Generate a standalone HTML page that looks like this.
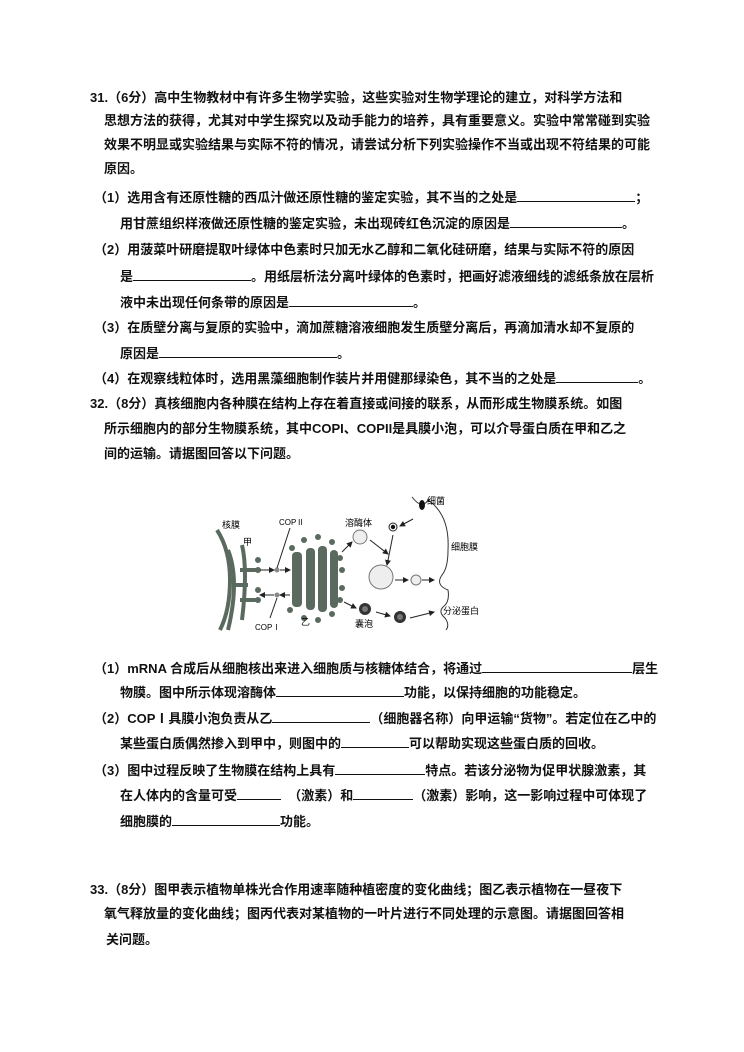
<!DOCTYPE html>
<html><head><meta charset="utf-8"><style>
body{margin:0;background:#fff;}
#p{position:relative;width:744px;height:1052px;overflow:hidden;font-family:"Liberation Sans","Noto Sans CJK SC",sans-serif;font-size:13px;font-weight:bold;color:#111;}
.l{position:absolute;white-space:pre;line-height:16px;}
.u{display:inline-block;border-bottom:1px solid #111;height:12px;vertical-align:baseline;}
</style></head><body><div id="p">
<div class="l" style="left:90px;top:90px">31.（6分）高中生物教材中有许多生物学实验，这些实验对生物学理论的建立，对科学方法和</div>
<div class="l" style="left:104px;top:113px">思想方法的获得，尤其对中学生探究以及动手能力的培养，具有重要意义。实验中常常碰到实验</div>
<div class="l" style="left:104px;top:137px">效果不明显或实验结果与实际不符的情况，请尝试分析下列实验操作不当或出现不符结果的可能</div>
<div class="l" style="left:104px;top:161px">原因。</div>
<div class="l" style="left:94px;top:189px">（1）选用含有还原性糖的西瓜汁做还原性糖的鉴定实验，其不当的之处是<span class="u" style="width:118px"></span>；</div>
<div class="l" style="left:120px;top:215px">用甘蔗组织样液做还原性糖的鉴定实验，未出现砖红色沉淀的原因是<span class="u" style="width:112px"></span>。</div>
<div class="l" style="left:94px;top:242px">（2）用菠菜叶研磨提取叶绿体中色素时只加无水乙醇和二氧化硅研磨，结果与实际不符的原因</div>
<div class="l" style="left:120px;top:268px">是<span class="u" style="width:118px"></span>。用纸层析法分离叶绿体的色素时，把画好滤液细线的滤纸条放在层析</div>
<div class="l" style="left:120px;top:294px">液中未出现任何条带的原因是<span class="u" style="width:124px"></span>。</div>
<div class="l" style="left:94px;top:320px">（3）在质壁分离与复原的实验中，滴加蔗糖溶液细胞发生质壁分离后，再滴加清水却不复原的</div>
<div class="l" style="left:120px;top:345px">原因是<span class="u" style="width:178px"></span>。</div>
<div class="l" style="left:94px;top:370px">（4）在观察线粒体时，选用黑藻细胞制作装片并用健那绿染色，其不当的之处是<span class="u" style="width:82px"></span>。</div>
<div class="l" style="left:90px;top:396px">32.（8分）真核细胞内各种膜在结构上存在着直接或间接的联系，从而形成生物膜系统。如图</div>
<div class="l" style="left:104px;top:421px">所示细胞内的部分生物膜系统，其中COPI、COPII是具膜小泡，可以介导蛋白质在甲和乙之</div>
<div class="l" style="left:104px;top:446px">间的运输。请据图回答以下问题。</div>

<svg style="position:absolute;left:200px;top:490px" width="300" height="150" viewBox="0 0 300 150" font-family="Liberation Sans,Noto Sans CJK SC,sans-serif" font-size="9" font-weight="normal">
<defs><marker id="a" markerWidth="6" markerHeight="6" refX="5" refY="3" orient="auto"><path d="M0,0 L6,3 L0,6z" fill="#222"/></marker></defs>
<g fill="none" stroke="#5a6a5e" stroke-width="4">
<path d="M17,40 Q30,60 30,90 Q30,120 20,140"/>
<path d="M28,60 Q40,90 28,140"/>
<path d="M42,55 Q48,80 42,130"/>
<path d="M35,95 H48 M40,80 H56 M40,110 H56"/>
</g>
<g fill="#5a6a5e">
<circle cx="58" cy="70" r="3"/><circle cx="58" cy="80" r="3"/><circle cx="58" cy="100" r="3"/><circle cx="58" cy="110" r="3"/>
<rect x="92" y="62" width="10" height="55" rx="4"/><rect x="106" y="58" width="9" height="62" rx="4"/><rect x="118" y="56" width="9" height="66" rx="4"/><rect x="130" y="60" width="8" height="58" rx="4"/>
<circle cx="92" cy="58" r="3"/><circle cx="104" cy="50" r="3"/><circle cx="118" cy="47" r="3"/><circle cx="132" cy="52" r="3"/><circle cx="140" cy="68" r="3"/><circle cx="142" cy="80" r="3"/><circle cx="142" cy="98" r="3"/><circle cx="140" cy="110" r="3"/><circle cx="104" cy="128" r="3"/><circle cx="118" cy="130" r="3"/><circle cx="132" cy="124" r="3"/><circle cx="90" cy="120" r="3"/>
<circle cx="77" cy="80" r="2.5" fill="#888"/><circle cx="77" cy="105" r="2.5" fill="#888"/>
</g>
<g stroke="#222" stroke-width="1" fill="none">
<line x1="60" y1="80" x2="74" y2="80" marker-end="url(#a)"/><line x1="80" y1="80" x2="90" y2="80" marker-end="url(#a)"/>
<line x1="90" y1="105" x2="80" y2="105" marker-end="url(#a)"/><line x1="74" y1="105" x2="60" y2="105" marker-end="url(#a)"/>
<line x1="77" y1="78" x2="90" y2="38"/><line x1="77" y1="108" x2="70" y2="128"/>
<line x1="142" y1="62" x2="152" y2="52" marker-end="url(#a)"/>
<line x1="170" y1="50" x2="188" y2="64" marker-end="url(#a)"/>
<line x1="213" y1="29" x2="200" y2="36" marker-end="url(#a)"/>
<line x1="193" y1="45" x2="187" y2="75" marker-end="url(#a)"/>
<line x1="195" y1="90" x2="208" y2="90" marker-end="url(#a)"/>
<line x1="222" y1="90" x2="234" y2="90" marker-end="url(#a)"/>
<line x1="144" y1="112" x2="156" y2="118" marker-end="url(#a)"/>
<line x1="176" y1="122" x2="190" y2="126" marker-end="url(#a)"/>
<line x1="210" y1="128" x2="234" y2="122" marker-end="url(#a)"/>
<path d="M212,7 Q222,20 228,10 Q250,25 248,60 Q248,78 242,85 Q235,95 248,100 Q250,112 243,117 Q238,122 245,128 Q250,135 246,140" stroke="#333"/>
</g>
<ellipse cx="222" cy="15" rx="3" ry="5" fill="#111"/>
<circle cx="193" cy="37" r="4" fill="#fff" stroke="#222"/><circle cx="193" cy="37" r="2.2" fill="#111"/>
<circle cx="160" cy="47" r="7" fill="#eee" stroke="#777"/>
<circle cx="181" cy="87" r="12" fill="#eee" stroke="#777"/>
<circle cx="216" cy="90" r="5" fill="#eee" stroke="#777"/>
<circle cx="165" cy="119" r="6" fill="#333"/><circle cx="165" cy="119" r="3" fill="#777"/>
<circle cx="200" cy="127" r="6" fill="#333"/><circle cx="200" cy="127" r="3" fill="#777"/>
<text x="22" y="38">核膜</text><text x="43" y="55">甲</text><text x="79" y="35" font-size="8">COPⅡ</text>
<text x="145" y="36">溶酶体</text><text x="227" y="14">细菌</text><text x="251" y="60">细胞膜</text>
<text x="243" y="124">分泌蛋白</text><text x="155" y="137">囊泡</text><text x="101" y="135">乙</text><text x="55" y="140" font-size="8">COPⅠ</text>
</svg>

<div class="l" style="left:94px;top:660px">（1）mRNA 合成后从细胞核出来进入细胞质与核糖体结合，将通过<span class="u" style="width:150px"></span>层生</div>
<div class="l" style="left:120px;top:684px">物膜。图中所示体现溶酶体<span class="u" style="width:128px"></span>功能，以保持细胞的功能稳定。</div>
<div class="l" style="left:94px;top:710px">（2）COPⅠ具膜小泡负责从乙<span class="u" style="width:98px"></span>（细胞器名称）向甲运输“货物”。若定位在乙中的</div>
<div class="l" style="left:120px;top:735px">某些蛋白质偶然掺入到甲中，则图中的<span class="u" style="width:68px"></span>可以帮助实现这些蛋白质的回收。</div>
<div class="l" style="left:94px;top:762px">（3）图中过程反映了生物膜在结构上具有<span class="u" style="width:90px"></span>特点。若该分泌物为促甲状腺激素，其</div>
<div class="l" style="left:120px;top:787px">在人体内的含量可受<span class="u" style="width:44px"></span>  （激素）和<span class="u" style="width:60px"></span>（激素）影响，这一影响过程中可体现了</div>
<div class="l" style="left:120px;top:813px">细胞膜的<span class="u" style="width:108px"></span>功能。</div>
<div class="l" style="left:90px;top:882px">33.（8分）图甲表示植物单株光合作用速率随种植密度的变化曲线；图乙表示植物在一昼夜下</div>
<div class="l" style="left:104px;top:906px">氧气释放量的变化曲线；图丙代表对某植物的一叶片进行不同处理的示意图。请据图回答相</div>
<div class="l" style="left:106px;top:932px">关问题。</div>
</div></body></html>
